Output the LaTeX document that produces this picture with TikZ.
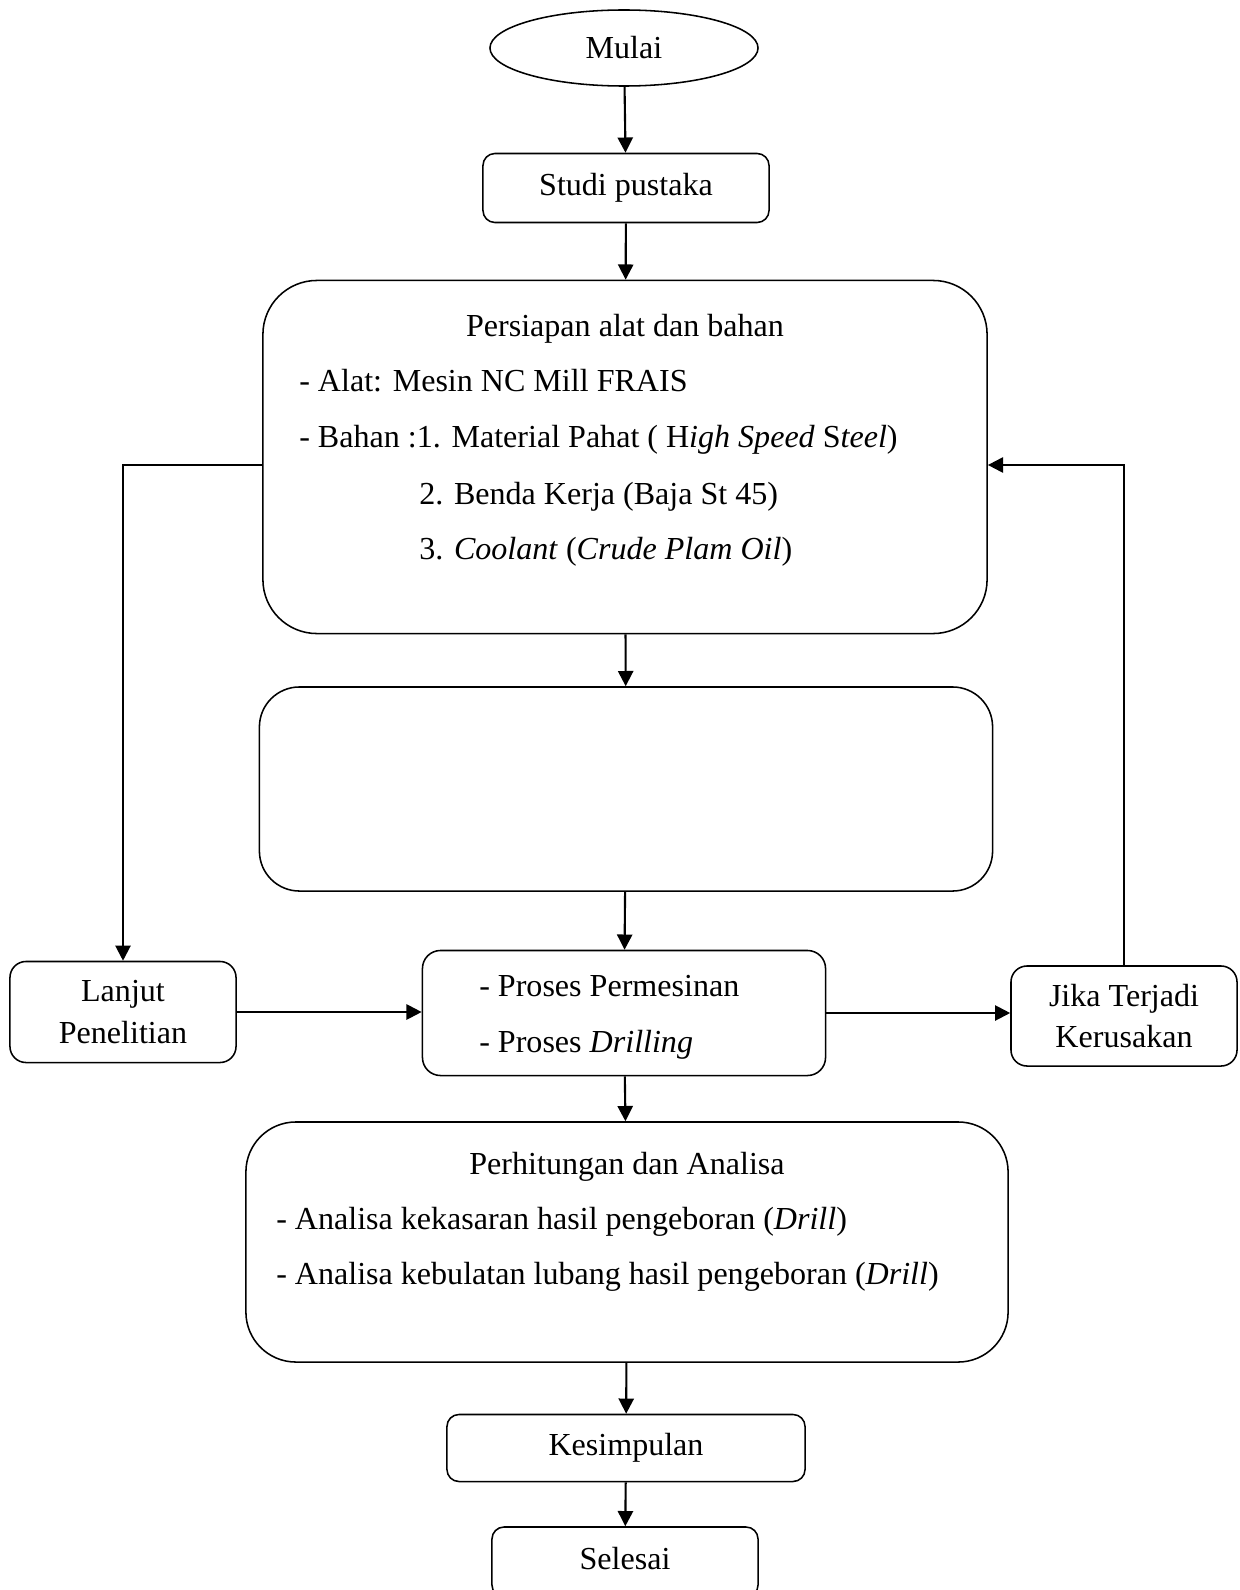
\documentclass[tikz,border=0pt]{standalone}
\usepackage{fontspec}
\setmainfont{Liberation Serif}
\usetikzlibrary{shapes.geometric,arrows.meta}

\tikzstyle{box} = [draw, line width=1.1pt, rectangle, rounded corners=0.3cm, inner sep=0pt, align=center]
\tikzstyle{txt} = [inner sep=0pt, anchor=west, text height=0.7em, text depth=0.25em]
\tikzstyle{arr} = [line width=1.5pt, -{Triangle[length=0.38cm,width=0.38cm]}]

\begin{document}
\begin{tikzpicture}[x=0.025cm, y=-0.025cm, font=\fontsize{22.8}{29.5}\selectfont]
%\draw[step=100, very thin,black!20] (0,0) grid (1240,1590);
\useasboundingbox (0,0) rectangle (1240,1590);
\draw (624,48) node[draw, line width=1.1pt, ellipse, minimum width=6.7cm, minimum height=1.9cm, inner sep=0pt] (mulai) {Mulai};
\draw (626,188) node[box, minimum width=7.15cm, minimum height=1.725cm] (studi) {Studi pustaka};
\draw (625,457) node[box, rounded corners=1.35cm, minimum width=18.1cm, minimum height=8.825cm] (persiapan) {};
\draw (625,333) node[txt, anchor=center] (persiapan-judul) {Persiapan alat dan bahan};
\draw (299,388) node[txt] (alat) {- Alat: Mesin NC Mill FRAIS};
\draw (299,444) node[txt] (bahan1) {- Bahan :1. Material Pahat ( H\textit{igh Speed} S\textit{teel})};
\draw (419,501) node[txt] (bahan2) {2. Benda Kerja (Baja St 45)};
\draw (419,556) node[txt] (bahan3) {3. \textit{Coolant} (\textit{Crude Plam Oil})};
\draw (626,789) node[box, rounded corners=1cm, minimum width=18.325cm, minimum height=5.1cm] (kosong) {};
\draw (624,1013) node[box, rounded corners=0.45cm, minimum width=10.075cm, minimum height=3.125cm] (proses) {};
\draw (479,993) node[txt] (proses1) {- Proses Permesinan};
\draw (479,1049) node[txt] (proses2) {- Proses \textit{Drilling}};
\draw (123,1012) node[box, rounded corners=0.4cm, minimum width=5.65cm, minimum height=2.525cm] (lanjut) {Lanjut\\Penelitian};
\draw (1124,1016) node[box, rounded corners=0.4cm, minimum width=5.65cm, minimum height=2.5cm] (jika) {Jika Terjadi\\Kerusakan};
\draw (627,1242) node[box, rounded corners=1.25cm, minimum width=19.05cm, minimum height=6cm] (hitung) {};
\draw (627,1171) node[txt, anchor=center] (hitung-judul) {Perhitungan dan Analisa};
\draw (276,1226) node[txt] (hitung1) {- Analisa kekasaran hasil pengeboran (\textit{Drill})};
\draw (276,1281) node[txt] (hitung2) {- Analisa kebulatan lubang hasil pengeboran (\textit{Drill})};
\draw (626,1448) node[box, minimum width=8.95cm, minimum height=1.675cm] (simpul) {Kesimpulan};
\draw (625,1562) node[box, minimum width=6.65cm, minimum height=1.75cm] (selesai) {};
\draw (625,1566) node[txt, anchor=center] (selesai-teks) {Selesai};
\coordinate (kiri) at ([yshift=-0.2cm]persiapan.west);
\coordinate (kanan) at ([yshift=-0.2cm]persiapan.east);
\draw[arr] (mulai) -- (studi);
\draw[arr] (studi) -- (persiapan);
\draw[arr] (persiapan) -- (kosong);
\draw[arr] (kosong) -- (proses);
\draw[arr] (proses) -- (hitung);
\draw[arr] (hitung) -- (simpul);
\draw[arr] (simpul) -- (selesai);
\draw[arr] (lanjut.east) -- (lanjut.east -| proses.west);
\draw[arr] (proses.east) -- (proses.east -| jika.west);
\draw[arr] (kiri) -| (lanjut.north);
\draw[arr] (jika.north) |- (kanan);
\end{tikzpicture}
\end{document}
